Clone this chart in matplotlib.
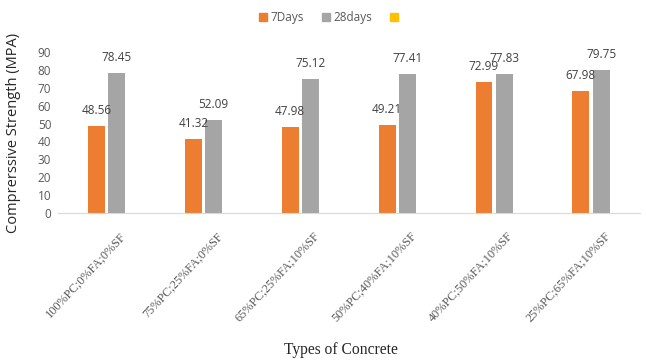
import matplotlib.pyplot as plt
import numpy as np
from matplotlib.patches import Patch

categories = [
    "100%PC;0%FA;0%SF",
    "75%PC;25%FA;0%SF",
    "65%PC;25%FA;10%SF",
    "50%PC;40%FA;10%SF",
    "40%PC;50%FA;10%SF",
    "25%PC;65%FA;10%SF",
]
days7 = [48.56, 41.32, 47.98, 49.21, 72.99, 67.98]
days28 = [78.45, 52.09, 75.12, 77.41, 77.83, 79.75]

ORANGE = "#ED7D31"
GREY = "#A5A5A5"
YELLOW = "#FFC000"
TEXT = "#595959"

fig = plt.figure(figsize=(6.46, 3.6), dpi=100)
ax = fig.add_axes([0.09, 0.408, 0.90, 0.448])

x = np.arange(len(categories))
w = 0.175
off = 0.105
b1 = ax.bar(x - off, days7, w, color=ORANGE)
b2 = ax.bar(x + off, days28, w, color=GREY)

for bars, vals in ((b1, days7), (b2, days28)):
    for bar, v in zip(bars, vals):
        ax.text(bar.get_x() + bar.get_width() / 2, v + 5, f"{v:.2f}",
                ha="center", va="bottom", fontsize=8.5, color="#404040",
                family="Open Sans")

ax.set_xlim(-0.5, len(categories) - 0.5)
ax.set_ylim(0, 90)
ax.set_yticks(range(0, 91, 10))
ax.tick_params(axis="y", length=0, labelsize=8.5, labelcolor=TEXT, pad=5)
ax.tick_params(axis="x", length=0, pad=12)
for lbl in ax.get_yticklabels():
    lbl.set_family("Open Sans")

ax.set_xticks(x + 0.13)
ax.set_xticklabels(categories, rotation=47, ha="right", va="top",
                   rotation_mode="anchor", fontsize=8.8, color=TEXT,
                   family="Liberation Serif")

for side in ("top", "right", "left"):
    ax.spines[side].set_visible(False)
ax.spines["bottom"].set_color("#D9D9D9")

ax.set_ylabel("Comprerssive Strength (MPA)", fontsize=10.5, color="#262626",
              family="Open Sans", labelpad=12)
fig.text(0.528, 0.027, "Types of Concrete", ha="center", va="center",
         fontsize=11.2, color="#262626", family="Liberation Serif")

handles = [Patch(color=ORANGE, label="7Days"),
           Patch(color=GREY, label="28days"),
           Patch(color=YELLOW, label=" ")]
fig.legend(handles=handles, loc="center", bbox_to_anchor=(0.514, 0.952),
           ncol=3, frameon=False, handlelength=0.7,
           handleheight=0.7, handletextpad=0.3, columnspacing=1.5,
           labelcolor=TEXT, prop={"family": "Open Sans", "size": 8.5})

fig.savefig("out.png", dpi=100)
